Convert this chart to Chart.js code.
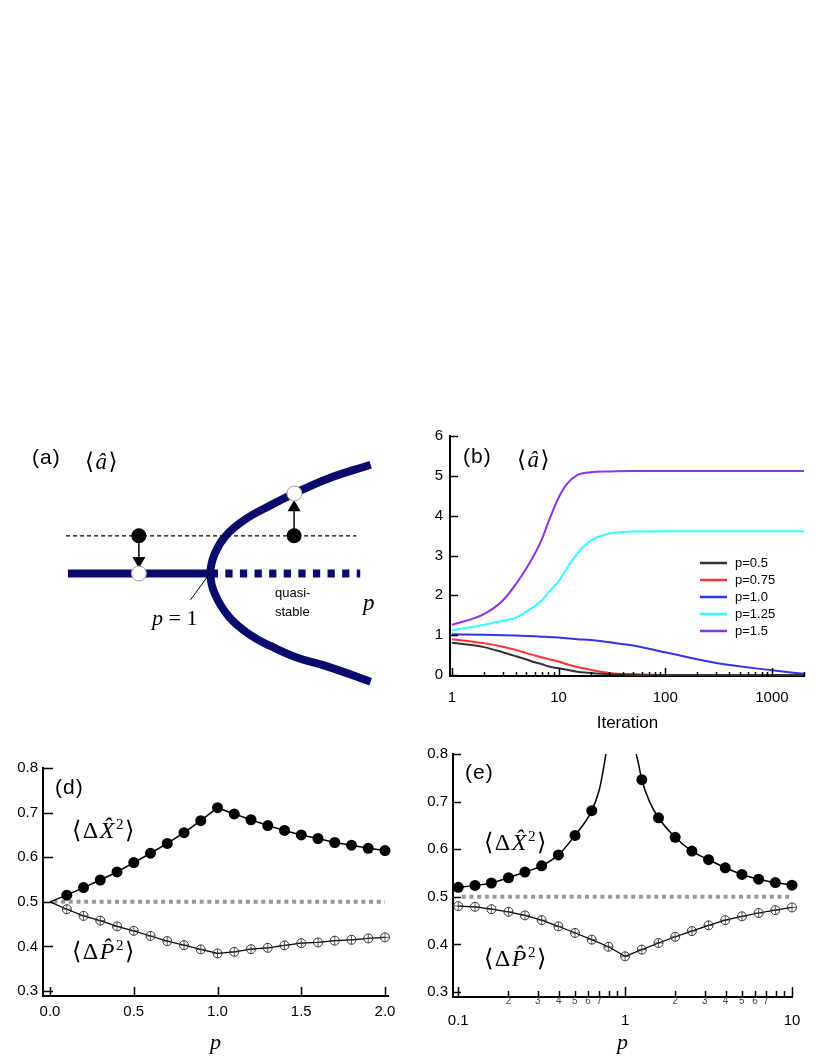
<!DOCTYPE html>
<html>
<head>
<meta charset="utf-8">
<script src="https://cdn.jsdelivr.net/npm/chart.js@4.4.0/dist/chart.umd.min.js"></script>
<style>
body { margin: 0; background: #fff; width: 817px; height: 1058px; position: relative; overflow: hidden; font-family: "Liberation Sans", Arial, sans-serif; }
canvas { position: absolute; display: block; }
.lbl { position: absolute; white-space: nowrap; line-height: 1; color: #000; }
.tag { font-size: 21px; letter-spacing: 1px; }
.math { font-family: "Liberation Serif", "DejaVu Serif", serif; font-size: 23px; letter-spacing: 1.5px; }
.math sup { font-size: 15px; vertical-align: 9px; line-height: 0; }
.small { font-size: 13px; line-height: 19px; }
</style>
</head>
<body>
<canvas id="ca" width="410" height="290" style="left:0;top:420px"></canvas>
<canvas id="cb" width="407" height="320" style="left:410px;top:420px"></canvas>
<canvas id="cd" width="410" height="328" style="left:0;top:730px"></canvas>
<canvas id="ce" width="407" height="328" style="left:410px;top:730px"></canvas>

<div class="lbl tag" style="left:32px;top:446px">(a)</div>
<div class="lbl math" style="left:85px;top:450px">⟨<i>â</i>⟩</div>
<div class="lbl math" style="left:152px;top:607px;font-size:22px;letter-spacing:0"><i>p</i> = 1</div>
<div class="lbl small" style="left:275px;top:583px">quasi-<br>stable</div>
<div class="lbl math" style="left:363px;top:591px"><i>p</i></div>

<div class="lbl tag" style="left:463px;top:445px">(b)</div>
<div class="lbl math" style="left:517px;top:448px">⟨<i>â</i>⟩</div>

<div class="lbl tag" style="left:55px;top:776px">(d)</div>
<div class="lbl math" style="left:72px;top:818px;font-size:24px">⟨Δ<i>X̂</i><sup>2</sup>⟩</div>
<div class="lbl math" style="left:72px;top:939px;font-size:24px">⟨Δ<i>P̂</i><sup>2</sup>⟩</div>

<div class="lbl tag" style="left:465px;top:761px">(e)</div>
<div class="lbl math" style="left:484px;top:830px;font-size:24px">⟨Δ<i>X̂</i><sup>2</sup>⟩</div>
<div class="lbl math" style="left:484px;top:946px;font-size:24px">⟨Δ<i>P̂</i><sup>2</sup>⟩</div>

<script>
// ---- (a) schematic bifurcation, in p / <a> units
const aStableP = [0, 1];
const aStableY = [0, 0];
const aQuasiP = [1, 2.047];
const aQuasiY = [0, 0];
const aBranchP = [2.12, 1.82, 1.597, 1.418, 1.283, 1.128, 1.027, 0.998, 1.027, 1.105, 1.24, 1.418, 1.586, 1.82, 2.12];
const aBranchY = [-1.15, -0.99, -0.89, -0.77, -0.66, -0.46, -0.21, 0, 0.207, 0.40, 0.573, 0.723, 0.85, 1.007, 1.155];
const aLevelP = [-0.013, 2.02];
const aLevelY = [0.40, 0.40];
const aStartP = [0.497, 1.584];     // black dots
const aStartY = [0.40, 0.40];
const aEndP = [0.497, 1.586];       // white dots
const aEndY = [0, 0.85];
const aHeadY = [0.135, 0.70];       // arrow heads
const aLeaderP = [0.859, 0.993];
const aLeaderY = [-0.28, 0];

// ---- (b) <a> vs iteration
const bIter = [1, 2, 3, 4, 5, 6, 7, 8, 10, 12, 15, 20, 30, 50, 100, 300, 1000, 2000];
const bP05  = [0.81, 0.70, 0.57, 0.47, 0.39, 0.32, 0.27, 0.22, 0.17, 0.13, 0.08, 0.05, 0.02, 0.01, 0, 0, 0, 0];
const bP075 = [0.90, 0.80, 0.71, 0.63, 0.55, 0.49, 0.44, 0.40, 0.34, 0.27, 0.20, 0.13, 0.05, 0.01, 0, 0, 0, 0];
const bP10  = [1.02, 1.01, 1.00, 0.99, 0.98, 0.97, 0.96, 0.955, 0.94, 0.92, 0.90, 0.88, 0.82, 0.74, 0.57, 0.30, 0.12, 0.03];
const bP125 = [1.12, 1.26, 1.36, 1.44, 1.59, 1.73, 1.88, 2.06, 2.35, 2.68, 3.05, 3.37, 3.55, 3.60, 3.61, 3.61, 3.61, 3.61];
const bP15  = [1.26, 1.53, 1.87, 2.29, 2.68, 3.05, 3.42, 3.83, 4.45, 4.80, 5.02, 5.09, 5.11, 5.12, 5.12, 5.12, 5.12, 5.12];
const bLabels = ['p=0.5', 'p=0.75', 'p=1.0', 'p=1.25', 'p=1.5'];
const bColors = ['#333333', '#ff3333', '#3333ee', '#33ffff', '#8833ee'];
const bMajorTicks = [1, 10, 100, 1000];
const bTickVals = [1, 2, 3, 4, 5, 6, 7, 8, 9, 10, 20, 30, 40, 50, 60, 70, 80, 90, 100, 200, 300, 400, 500, 600, 700, 800, 900, 1000, 2000];
const bYTicks = [0, 1, 2, 3, 4, 5, 6];

// ---- (d) variances vs p (linear)
const dP = [0, 0.1, 0.2, 0.3, 0.4, 0.5, 0.6, 0.7, 0.8, 0.9, 1.0, 1.1, 1.2, 1.3, 1.4, 1.5, 1.6, 1.7, 1.8, 1.9, 2.0];
const dX = [0.5, 0.515, 0.532, 0.549, 0.567, 0.588, 0.609, 0.631, 0.655, 0.682, 0.711, 0.697, 0.684, 0.671, 0.660, 0.650, 0.642, 0.633, 0.627, 0.620, 0.615];
const dV = [0.5, 0.4835, 0.4685, 0.458, 0.445, 0.435, 0.4235, 0.412, 0.403, 0.3935, 0.3845, 0.388, 0.394, 0.397, 0.4025, 0.4075, 0.409, 0.413, 0.415, 0.418, 0.4205];
const dRefP = [0.02, 2.0];
const dRefY = [0.5, 0.5];
const dTickVals = [0, 0.5, 1, 1.5, 2];
const dTickLabels = ['0.0', '0.5', '1.0', '1.5', '2.0'];
const varYTicks = [0.3, 0.4, 0.5, 0.6, 0.7, 0.8];
const varYLabels = ['0.3', '0.4', '0.5', '0.6', '0.7', '0.8'];

// ---- (e) variances vs p (log)
const eP = [0.1, 0.126, 0.158, 0.2, 0.251, 0.316, 0.398, 0.501, 0.631, 0.794, 1, 1.259, 1.585, 1.995, 2.512, 3.162, 3.981, 5.012, 6.31, 7.943, 10];
const eX = [0.520, 0.524, 0.529, 0.540, 0.552, 0.565, 0.588, 0.629, 0.681, null, null, 0.746, 0.666, 0.625, 0.596, 0.578, 0.561, 0.547, 0.537, 0.530, 0.5245];
const eV = [0.4805, 0.479, 0.474, 0.4685, 0.461, 0.451, 0.438, 0.424, 0.410, 0.395, 0.375, 0.389, 0.403, 0.416, 0.428, 0.440, 0.451, 0.459, 0.466, 0.472, 0.4776];
const eLeftP = [0.1, 0.126, 0.158, 0.2, 0.251, 0.316, 0.398, 0.501, 0.631, 0.7, 0.74, 0.767];
const eLeftY = [0.520, 0.524, 0.529, 0.540, 0.552, 0.565, 0.588, 0.629, 0.681, 0.725, 0.767, 0.80];
const eRightP = [1.165, 1.2, 1.259, 1.4, 1.585, 1.995, 2.512, 3.162, 3.981, 5.012, 6.31, 7.943, 10];
const eRightY = [0.80, 0.781, 0.746, 0.70, 0.666, 0.625, 0.596, 0.578, 0.561, 0.547, 0.537, 0.530, 0.5245];
const eRefP = [0.105, 9.8];
const eRefY = [0.5, 0.5];
const eMajorTicks = [0.1, 1, 10];
const eTickVals = [0.1, 0.2, 0.3, 0.4, 0.5, 0.6, 0.7, 0.8, 0.9, 1, 2, 3, 4, 5, 6, 7, 8, 9, 10];
const eTickLabels = ['0.1', '2', '3', '4', '5', '6', '7', '', '', '1', '2', '3', '4', '5', '6', '7', '', '', '10'];

const FONT = "'Liberation Sans', Arial, sans-serif";
const SERIF = "'Liberation Serif', 'DejaVu Serif', serif";
const NAVY = '#0b0b6e';

function pts(xs, ys) {
    return xs.map((x, i) => ({ x: x, y: ys[i] }));
}

function setTicks(vals, bigVals) {
    return function(s) {
        s.ticks = vals.map(v => ({ value: v, big: bigVals.includes(v) }));
    };
}

// ticks drawn inward from the axis lines
const innerTicks = {
    id: 'innerTicks',
    afterDraw(chart, args, o) {
        const ctx = chart.ctx, a = chart.chartArea;
        const sx = chart.scales.x, sy = chart.scales.y;
        ctx.save();
        ctx.strokeStyle = '#000';
        ctx.lineWidth = o.width;
        sx.ticks.forEach(t => {
            const px = Math.round(sx.getPixelForValue(t.value)) + 0.5;
            const len = t.big ? o.xLong : o.xShort;
            ctx.beginPath();
            ctx.moveTo(px, a.bottom);
            ctx.lineTo(px, a.bottom - len);
            ctx.stroke();
        });
        sy.ticks.forEach(t => {
            const py = Math.round(sy.getPixelForValue(t.value)) + 0.5;
            ctx.beginPath();
            ctx.moveTo(a.left, py);
            ctx.lineTo(a.left + o.yLen, py);
            ctx.stroke();
        });
        ctx.restore();
    }
};

// legend drawn inside panel (b)
const lineLegend = {
    id: 'lineLegend',
    afterDatasetsDraw(chart, args, o) {
        const ctx = chart.ctx;
        ctx.save();
        ctx.font = o.font;
        ctx.textBaseline = 'middle';
        chart.data.datasets.forEach((ds, i) => {
            const y = o.top + i * o.gap;
            ctx.strokeStyle = ds.borderColor;
            ctx.lineWidth = 2.5;
            ctx.beginPath();
            ctx.moveTo(o.left, y);
            ctx.lineTo(o.left + o.len, y);
            ctx.stroke();
            ctx.fillStyle = '#000';
            ctx.fillText(ds.label, o.left + o.len + 8, y);
        });
        ctx.restore();
    }
};

const base = {
    responsive: false,
    animation: false,
    events: []
};

// ---------------- (a)
new Chart(document.getElementById('ca'), {
    type: 'scatter',
    data: {
        datasets: [
            { data: pts(aStartP, aStartY), pointRadius: 7.5, pointBackgroundColor: '#000', pointBorderColor: '#000', pointBorderWidth: 0, order: 0 },
            { data: pts(aEndP, aEndY), pointRadius: 7.5, pointBackgroundColor: '#fff', pointBorderColor: '#999', pointBorderWidth: 1, order: 0 },
            { data: [{ x: aStartP[0], y: aHeadY[0] }], pointStyle: 'triangle', rotation: 180, pointRadius: 7.5, pointBackgroundColor: '#000', pointBorderColor: '#000', pointBorderWidth: 0, order: 1 },
            { data: [{ x: aStartP[1], y: aHeadY[1] }], pointStyle: 'triangle', rotation: 0, pointRadius: 7.5, pointBackgroundColor: '#000', pointBorderColor: '#000', pointBorderWidth: 0, order: 1 },
            { data: [{ x: aStartP[0], y: aStartY[0] }, { x: aStartP[0], y: aHeadY[0] }], showLine: true, borderColor: '#000', borderWidth: 1.5, pointRadius: 0, order: 2 },
            { data: [{ x: aStartP[1], y: aStartY[1] }, { x: aStartP[1], y: aHeadY[1] }], showLine: true, borderColor: '#000', borderWidth: 1.5, pointRadius: 0, order: 2 },
            { data: pts(aLeaderP, aLeaderY), showLine: true, borderColor: '#000', borderWidth: 1, pointRadius: 0, order: 2 },
            { data: pts(aLevelP, aLevelY), showLine: true, borderColor: '#000', borderWidth: 1.3, borderDash: [4, 3], pointRadius: 0, order: 3 },
            { data: pts(aStableP, aStableY), showLine: true, borderColor: NAVY, borderWidth: 8, borderCapStyle: 'butt', pointRadius: 0, order: 4 },
            { data: pts(aQuasiP, aQuasiY), showLine: true, borderColor: NAVY, borderWidth: 8, borderCapStyle: 'butt', borderDash: [7.3, 7.3], pointRadius: 0, order: 4 },
            { data: pts(aBranchP, aBranchY), showLine: true, borderColor: NAVY, borderWidth: 8, borderCapStyle: 'butt', tension: 0.4, pointRadius: 0, order: 4 }
        ]
    },
    options: Object.assign({}, base, {
        layout: { padding: 0 },
        plugins: { legend: { display: false }, tooltip: { enabled: false } },
        scales: {
            x: { type: 'linear', display: false, min: -0.416, max: 2.336 },
            y: { type: 'linear', display: false, min: -1.36, max: 1.54 }
        }
    })
});

// ---------------- (b)
const bSeries = [bP05, bP075, bP10, bP125, bP15];
new Chart(document.getElementById('cb'), {
    type: 'scatter',
    data: {
        datasets: bSeries.map((vals, i) => ({
            label: bLabels[i],
            data: pts(bIter, vals),
            showLine: true,
            borderColor: bColors[i],
            borderWidth: 2,
            pointRadius: 0,
            cubicInterpolationMode: 'monotone'
        }))
    },
    options: Object.assign({}, base, {
        layout: { padding: { left: 0, top: 12, right: 4, bottom: 0 } },
        plugins: {
            legend: { display: false },
            tooltip: { enabled: false },
            innerTicks: { width: 1.5, xLong: 8, xShort: 4, yLen: 8 },
            lineLegend: { left: 290, len: 27, top: 143, gap: 17, font: '13px ' + FONT }
        },
        scales: {
            x: {
                type: 'logarithmic', min: 0.96, max: 2036, bounds: 'data',
                grid: { display: false, drawTicks: false },
                border: { display: true, color: '#000', width: 2 },
                ticks: {
                    autoSkip: false, maxRotation: 0, padding: 13, color: '#000',
                    major: { enabled: false },
                    font: { family: FONT, size: 15 },
                    callback: (v, i, ts) => ts[i].big ? String(v) : ''
                },
                afterBuildTicks: setTicks(bTickVals, bMajorTicks),
                afterFit: s => { s.height = 64; },
                title: { display: true, text: 'Iteration', color: '#000', font: { family: FONT, size: 17, lineHeight: 1.2 }, padding: { top: 0, bottom: 6 } }
            },
            y: {
                type: 'linear', min: -0.025, max: 6, bounds: 'data',
                grid: { display: false, drawTicks: false },
                border: { display: true, color: '#000', width: 2 },
                ticks: { autoSkip: false, padding: 7, color: '#000', font: { family: FONT, size: 15 }, callback: v => String(v) },
                afterBuildTicks: setTicks(bYTicks, bYTicks),
                afterFit: s => { s.width = 40; }
            }
        }
    }),
    plugins: [innerTicks, lineLegend]
});

// ---------------- (d)
function hideFirst(c) { return c.dataIndex === 0; }
new Chart(document.getElementById('cd'), {
    type: 'scatter',
    data: {
        datasets: [
            { data: pts(dP, dX), showLine: true, clip: false, borderColor: '#000', borderWidth: 1.5, pointRadius: c => hideFirst(c) ? 0 : 5.5, pointBackgroundColor: '#000', pointBorderColor: '#000', pointBorderWidth: 0, order: 1 },
            { data: pts(dP, dV), showLine: true, clip: false, borderColor: '#000', borderWidth: 1.2, pointRadius: c => hideFirst(c) ? 0 : 4.5, pointBackgroundColor: 'rgba(255,255,255,0)', pointBorderColor: '#333', pointBorderWidth: 1, order: 1 },
            { data: pts(dP, dV), clip: false, pointStyle: 'cross', pointRadius: c => hideFirst(c) ? 0 : 4.5, pointBorderColor: '#333', pointBorderWidth: 0.8, order: 0 },
            { data: pts(dRefP, dRefY), showLine: true, borderColor: '#999', borderWidth: 4, borderCapStyle: 'butt', borderDash: [4, 3.7], pointRadius: 0, order: 2 }
        ]
    },
    options: Object.assign({}, base, {
        layout: { padding: { left: 0, top: 38, right: 22, bottom: 0 } },
        plugins: {
            legend: { display: false },
            tooltip: { enabled: false },
            innerTicks: { width: 1.5, xLong: 9, xShort: 9, yLen: 10 }
        },
        scales: {
            x: {
                type: 'linear', min: -0.042, max: 2.018, bounds: 'data',
                grid: { display: false, drawTicks: false },
                border: { display: true, color: '#000', width: 2 },
                ticks: { autoSkip: false, maxRotation: 0, padding: 7, color: '#000', font: { family: FONT, size: 15 }, callback: (v, i) => dTickLabels[i] },
                afterBuildTicks: setTicks(dTickVals, dTickVals),
                afterFit: s => { s.height = 62; },
                title: { display: true, text: 'p', color: '#000', font: { family: SERIF, size: 22, style: 'italic', lineHeight: 1 }, padding: { top: 0, bottom: 4 } }
            },
            y: {
                type: 'linear', min: 0.289, max: 0.8, bounds: 'data',
                grid: { display: false, drawTicks: false },
                border: { display: true, color: '#000', width: 2 },
                ticks: { autoSkip: false, padding: 5, color: '#000', font: { family: FONT, size: 15 }, callback: (v, i) => varYLabels[i] },
                afterBuildTicks: setTicks(varYTicks, varYTicks),
                afterFit: s => { s.width = 43; }
            }
        }
    }),
    plugins: [innerTicks]
});

// ---------------- (e)
new Chart(document.getElementById('ce'), {
    type: 'scatter',
    data: {
        datasets: [
            { data: pts(eP, eX), clip: false, pointRadius: 5.5, pointBackgroundColor: '#000', pointBorderColor: '#000', pointBorderWidth: 0, order: 0 },
            { data: pts(eP, eV), clip: false, pointRadius: 4.5, pointBackgroundColor: 'rgba(255,255,255,0)', pointBorderColor: '#333', pointBorderWidth: 1, order: 0 },
            { data: pts(eP, eV), clip: false, pointStyle: 'cross', pointRadius: 4.5, pointBorderColor: '#333', pointBorderWidth: 0.8, order: 0 },
            { data: pts(eLeftP, eLeftY), showLine: true, borderColor: '#000', borderWidth: 1.5, pointRadius: 0, cubicInterpolationMode: 'monotone', order: 1 },
            { data: pts(eRightP, eRightY), showLine: true, borderColor: '#000', borderWidth: 1.5, pointRadius: 0, cubicInterpolationMode: 'monotone', order: 1 },
            { data: pts(eP, eV), showLine: true, borderColor: '#000', borderWidth: 1.2, pointRadius: 0, order: 1 },
            { data: pts(eRefP, eRefY), showLine: true, borderColor: '#999', borderWidth: 4, borderCapStyle: 'butt', borderDash: [4, 3.7], pointRadius: 0, order: 2 }
        ]
    },
    options: Object.assign({}, base, {
        layout: { padding: { left: 0, top: 24, right: 25, bottom: 0 } },
        plugins: {
            legend: { display: false },
            tooltip: { enabled: false },
            innerTicks: { width: 1.5, xLong: 10, xShort: 6, yLen: 8 }
        },
        scales: {
            x: {
                type: 'logarithmic', min: 0.093, max: 10, bounds: 'data',
                grid: { display: false, drawTicks: false },
                border: { display: true, color: '#000', width: 2 },
                ticks: {
                    autoSkip: false, maxRotation: 0, padding: 0,
                    major: { enabled: false },
                    color: c => (c.tick && c.tick.big) ? '#000' : '#444',
                    font: c => (c.tick && c.tick.big) ? { family: FONT, size: 15, lineHeight: 1.05 } : { family: FONT, size: 10, lineHeight: 0.9 },
                    callback: (v, i, ts) => ts[i].big ? ['', eTickLabels[i]] : eTickLabels[i]
                },
                afterBuildTicks: setTicks(eTickVals, eMajorTicks),
                afterFit: s => { s.height = 61; },
                title: { display: true, text: 'p', color: '#000', font: { family: SERIF, size: 22, style: 'italic', lineHeight: 1 }, padding: { top: 0, bottom: 4 } }
            },
            y: {
                type: 'linear', min: 0.2895, max: 0.8, bounds: 'data',
                grid: { display: false, drawTicks: false },
                border: { display: true, color: '#000', width: 2 },
                ticks: { autoSkip: false, padding: 5, color: '#000', font: { family: FONT, size: 15 }, callback: (v, i) => varYLabels[i] },
                afterBuildTicks: setTicks(varYTicks, varYTicks),
                afterFit: s => { s.width = 43; }
            }
        }
    }),
    plugins: [innerTicks]
});
</script>
</body>
</html>
